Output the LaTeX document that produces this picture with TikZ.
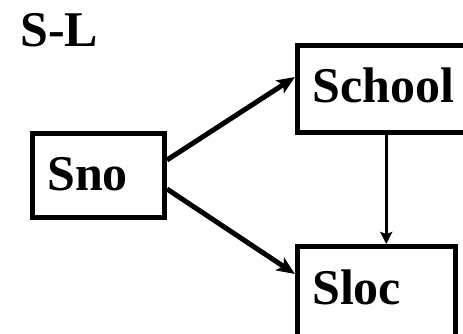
\documentclass[tikz,border=0pt]{standalone}
\usepackage{fontspec}
\setmainfont{Liberation Serif}
\usetikzlibrary{arrows.meta}
\begin{document}
\begin{tikzpicture}[x=1pt,y=-1pt,
  box/.style={draw,line width=5pt,inner sep=0pt,minimum width=#1},
  label/.style={anchor=base west,inner sep=0pt,font=\fontsize{50}{60}\selectfont\bfseries},
  thickarrow/.style={line width=5pt,-{Stealth[length=18pt,width=15pt,inset=4pt]}},
  thinarrow/.style={line width=3.5pt,-{Stealth[length=12pt,width=12pt,inset=2pt]}}]
\useasboundingbox (0,0) rectangle (463,334);
\clip (0,0) rectangle (463,334);
% boxes
\node[box=132pt,minimum height=84pt] (sno) at (98.5,175.5) {};
\node[box=177.5pt,minimum height=87pt] (school) at (386.25,89) {};
\node[box=158pt,minimum height=98.5pt] (sloc) at (376.5,295.75) {};
% texts
\node[label] (title) at (20,47) {S-L};
\node[label] (snot) at (47,190) {Sno};
\node[label] (schoolt) at (312,103) {School};
\node[label] (sloct) at (312,304) {Sloc};
% connectors
\draw[thickarrow] ([yshift=15.5pt]sno.east) -- ([yshift=12pt]school.west);
\draw[thickarrow] ([yshift=-13.5pt]sno.east) -- ([yshift=21.75pt]sloc.west);
\draw[thinarrow] (school.south) -- (school.south |- sloc.north);
\end{tikzpicture}
\end{document}
